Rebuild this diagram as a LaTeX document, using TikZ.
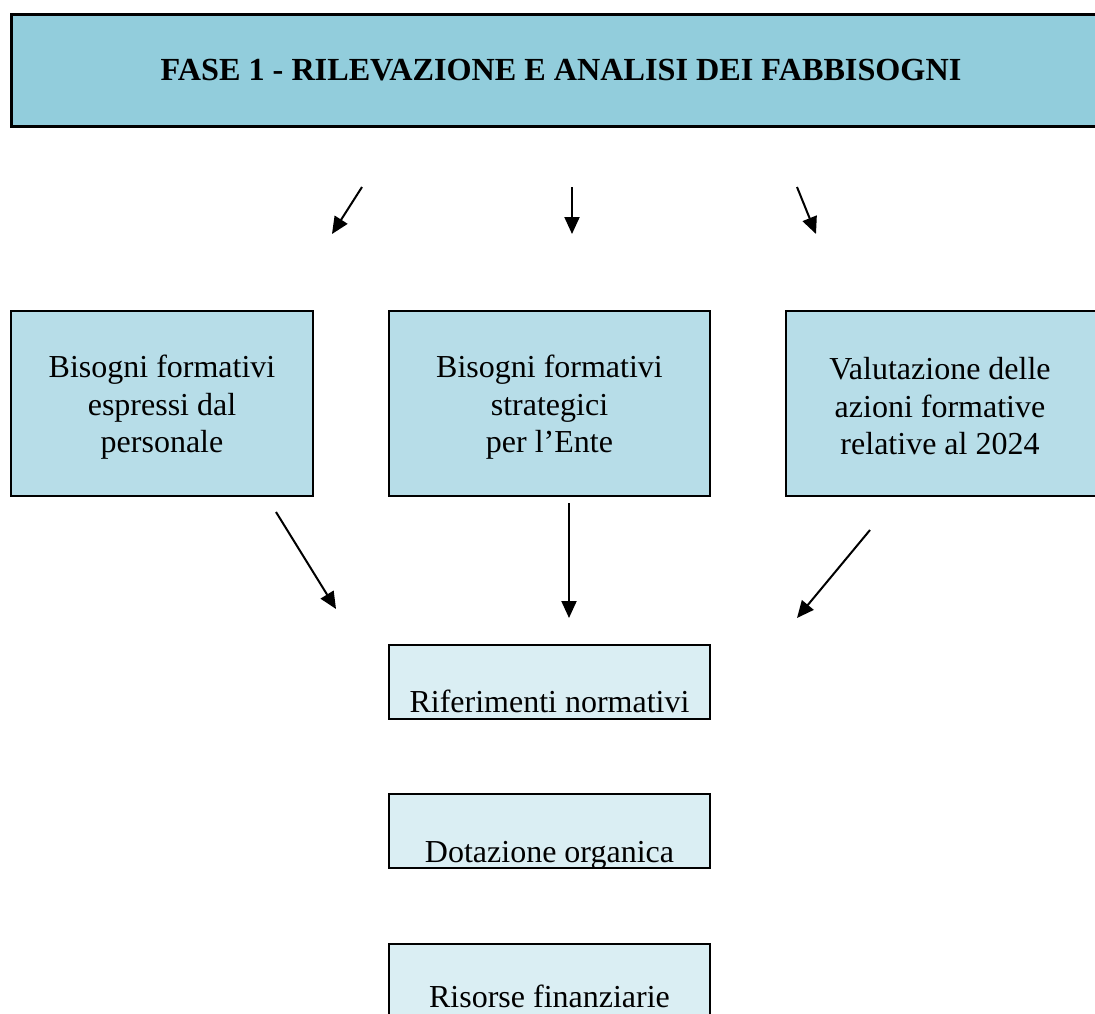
\documentclass[tikz,border=0pt]{standalone}
\usepackage{fontspec}
\setmainfont{Liberation Serif}
\usetikzlibrary{arrows.meta}
\definecolor{topfill}{HTML}{92CDDC}
\definecolor{midfill}{HTML}{B7DDE8}
\definecolor{lowfill}{HTML}{DAEEF3}
\begin{document}
\begin{tikzpicture}[x=1pt,y=-1pt,
  titlebox/.style={draw=black,line width=3pt,fill=topfill,minimum width=1100pt,minimum height=112pt,inner sep=0pt,
    font=\fontsize{32.2}{38}\selectfont\bfseries},
  midbox/.style={draw=black,line width=2pt,fill=midfill,minimum height=185pt,inner sep=0pt},
  midtext/.style={inner sep=0pt,align=center,font=\fontsize{32}{37.5}\selectfont},
  lowbox/.style={draw=black,line width=2pt,fill=lowfill,minimum width=321pt,minimum height=74pt,inner sep=0pt},
  lowtext/.style={anchor=base,inner sep=0pt,font=\fontsize{32}{37}\selectfont},
  arr/.style={line width=2pt,-{Triangle[length=17pt,width=15pt]}}]
\useasboundingbox (0,0) rectangle (1095,1013);
\clip (0,0) rectangle (1095,1013);
\node[titlebox] (title) at (561,70) {FASE 1 - RILEVAZIONE E ANALISI DEI FABBISOGNI};
\node[midbox,minimum width=302pt] (b1) at (162,403.5) {};
\node[midbox,minimum width=321pt] (b2) at (549.5,403.5) {};
\node[midbox,minimum width=310pt] (b3) at (941,403.5) {};
\node[midtext] (b1t) at ([yshift=-4pt]b1.center) {Bisogni formativi\\espressi dal\\personale};
\node[midtext] (b2t) at ([yshift=-4pt]b2.center) {Bisogni formativi\\strategici\\per l’Ente};
\node[midtext] (b3t) at ([yshift=-3pt,xshift=-1pt]b3.center) {Valutazione delle\\azioni formative\\relative al 2024};
\node[lowbox] (r1) at (549.5,681.5) {};
\node[lowbox] (r2) at (549.5,831) {};
\node[lowbox] (r3) at (549.5,981) {};
\node[lowtext] (t1) at ([yshift=7pt]r1.south) {Riferimenti normativi};
\node[lowtext] (t2) at ([yshift=7pt]r2.south) {Dotazione organica};
\node[lowtext] (t3) at (549.5,1007) {Risorse finanziarie};
\coordinate (a1s) at (362,187); \coordinate (a1e) at (332,234);
\coordinate (a2s) at (572,187); \coordinate (a2e) at (572,234);
\coordinate (a3s) at (797,187); \coordinate (a3e) at (816,234);
\coordinate (c1s) at (276,512); \coordinate (c1e) at (336,609);
\coordinate (c2s) at (569,503); \coordinate (c2e) at (569,618);
\coordinate (c3s) at (870,530); \coordinate (c3e) at (797,618);
\draw[arr] (a1s) -- (a1e);
\draw[arr] (a2s) -- (a2e);
\draw[arr] (a3s) -- (a3e);
\draw[arr] (c1s) -- (c1e);
\draw[arr] (c2s) -- (c2e);
\draw[arr] (c3s) -- (c3e);
\end{tikzpicture}
\end{document}
